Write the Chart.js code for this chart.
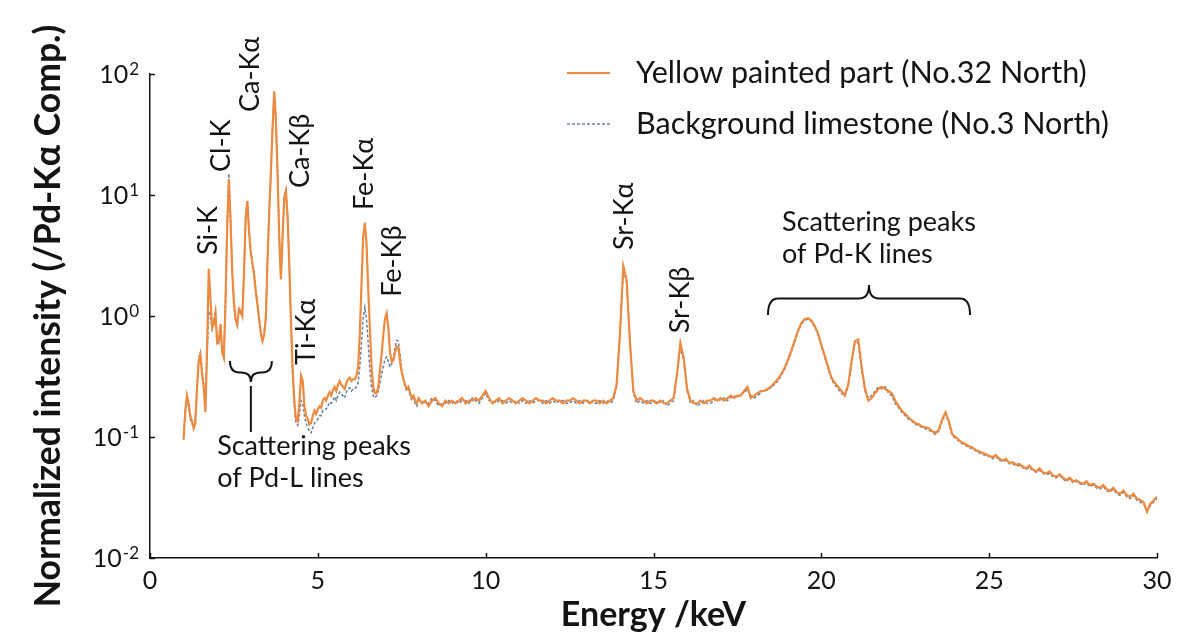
<!DOCTYPE html>
<html><head><meta charset="utf-8">
<script src="https://cdn.jsdelivr.net/npm/chart.js@4.4.1/dist/chart.umd.min.js"></script>
<style>html,body{margin:0;padding:0;background:#fff}#wrap{width:1200px;height:644px}</style>
</head><body><div id="wrap"><canvas id="c" width="1200" height="644"></canvas></div>
<script>
// ---- DATA ----
const energiesLow = [
1.00,1.05,1.10,1.15,1.20,1.25,1.30,1.35,1.40,1.45,
1.50,1.55,1.60,1.65,1.70,1.75,1.80,1.85,1.90,1.95,
2.00,2.05,2.10,2.15,2.20,2.25,2.30,2.35,2.40,2.45,
2.50,2.55,2.60,2.65,2.70,2.75,2.80,2.85,2.90,2.95,
3.00,3.05,3.10,3.15,3.20,3.25,3.30,3.35,3.40,3.45,
3.50,3.55,3.60,3.65,3.70,3.75,3.80,3.85,3.90,3.95,
4.00,4.05,4.10,4.15,4.20,4.25,4.30,4.35,4.40,4.45,
4.50,4.55,4.60,4.65,4.70,4.75,4.80,4.85,4.90,4.95,
5.00,5.05,5.10,5.15,5.20,5.25,5.30,5.35,5.40,5.45,
5.50,5.55,5.60,5.65,5.70,5.75,5.80,5.85,5.90,5.95,
6.00,6.05,6.10,6.15,6.20,6.25,6.30,6.35,6.40,6.45,
6.50,6.55,6.60,6.65,6.70,6.75,6.80,6.85,6.90,6.95,
7.00,7.05,7.10,7.15,7.20,7.25,7.30,7.35,7.40,7.45,
7.50,7.55,7.60,7.65,7.70,7.75,7.80,7.85,7.90,7.95,
8.00];
const energiesHigh = [
8.1,8.2,8.3,8.4,8.5,8.6,8.7,8.8,8.9,9.0,
9.1,9.2,9.3,9.4,9.5,9.6,9.7,9.8,9.9,10.0,
10.1,10.2,10.3,10.4,10.5,10.6,10.7,10.8,10.9,11.0,
11.1,11.2,11.3,11.4,11.5,11.6,11.7,11.8,11.9,12.0,
12.1,12.2,12.3,12.4,12.5,12.6,12.7,12.8,12.9,13.0,
13.1,13.2,13.3,13.4,13.5,13.6,13.7,13.8,13.9,14.0,
14.1,14.2,14.3,14.4,14.5,14.6,14.7,14.8,14.9,15.0,
15.1,15.2,15.3,15.4,15.5,15.6,15.7,15.8,15.9,16.0,
16.1,16.2,16.3,16.4,16.5,16.6,16.7,16.8,16.9,17.0,
17.1,17.2,17.3,17.4,17.5,17.6,17.7,17.8,17.9,18.0,
18.1,18.2,18.3,18.4,18.5,18.6,18.7,18.8,18.9,19.0,
19.1,19.2,19.3,19.4,19.5,19.6,19.7,19.8,19.9,20.0,
20.1,20.2,20.3,20.4,20.5,20.6,20.7,20.8,20.9,21.0,
21.1,21.2,21.3,21.4,21.5,21.6,21.7,21.8,21.9,22.0,
22.1,22.2,22.3,22.4,22.5,22.6,22.7,22.8,22.9,23.0,
23.1,23.2,23.3,23.4,23.5,23.6,23.7,23.8,23.9,24.0,
24.1,24.2,24.3,24.4,24.5,24.6,24.7,24.8,24.9,25.0,
25.1,25.2,25.3,25.4,25.5,25.6,25.7,25.8,25.9,26.0,
26.1,26.2,26.3,26.4,26.5,26.6,26.7,26.8,26.9,27.0,
27.1,27.2,27.3,27.4,27.5,27.6,27.7,27.8,27.9,28.0,
28.1,28.2,28.3,28.4,28.5,28.6,28.7,28.8,28.9,29.0,
29.1,29.2,29.3,29.4,29.5,29.6,29.7,29.8,29.9,30.0];

// Yellow painted part (No.32 North)
const yellowLow = [
0.095,0.16,0.22,0.19,0.15,0.135,0.118,0.13,0.25,0.42,
0.48,0.33,0.26,0.16,0.55,2.45,1.4,0.8,0.85,1.05,
0.6,0.62,0.86,0.5,0.45,1.3,5.5,13.5,6.0,2.3,
1.3,0.95,0.85,1.15,1.1,1.0,2.2,6.5,8.9,5.0,
3.4,2.7,2.2,1.6,1.25,0.95,0.72,0.62,0.7,0.95,
2.8,7.0,15,35,72,42,15,4.5,2.0,4.5,
9.5,10.8,6.5,2.6,0.9,0.36,0.2,0.14,0.135,0.19,
0.32,0.29,0.18,0.15,0.14,0.127,0.13,0.15,0.165,0.155,
0.17,0.18,0.175,0.2,0.21,0.2,0.22,0.235,0.22,0.245,
0.26,0.24,0.27,0.29,0.27,0.26,0.25,0.28,0.3,0.31,
0.29,0.3,0.3,0.32,0.38,0.7,1.8,4.5,5.9,4.0,
1.7,0.8,0.38,0.26,0.23,0.23,0.26,0.35,0.48,0.7,
0.95,1.05,0.8,0.5,0.42,0.43,0.5,0.56,0.55,0.42,
0.34,0.3,0.27,0.25,0.26,0.23,0.21,0.22,0.2,0.19,
0.21];
const yellowHigh = [
0.19,0.2,0.18,0.2,0.21,0.19,0.18,0.2,0.19,0.2,
0.19,0.2,0.21,0.19,0.2,0.2,0.21,0.2,0.22,0.24,
0.21,0.19,0.2,0.21,0.19,0.2,0.21,0.2,0.19,0.2,
0.21,0.2,0.19,0.2,0.21,0.2,0.2,0.19,0.2,0.21,
0.2,0.2,0.19,0.2,0.2,0.21,0.2,0.19,0.2,0.2,
0.19,0.2,0.2,0.19,0.2,0.19,0.2,0.21,0.27,0.7,
2.6,2.0,0.6,0.24,0.2,0.21,0.2,0.19,0.2,0.2,
0.19,0.2,0.19,0.19,0.2,0.21,0.33,0.6,0.45,0.25,
0.2,0.19,0.19,0.2,0.19,0.2,0.2,0.21,0.2,0.21,
0.2,0.21,0.22,0.21,0.22,0.22,0.24,0.26,0.21,0.22,
0.23,0.24,0.24,0.25,0.26,0.28,0.3,0.33,0.37,0.43,
0.51,0.62,0.75,0.87,0.94,0.96,0.92,0.83,0.72,0.58,
0.47,0.38,0.31,0.28,0.26,0.24,0.22,0.27,0.42,0.62,
0.64,0.38,0.25,0.2,0.21,0.23,0.25,0.26,0.25,0.24,
0.23,0.2,0.18,0.165,0.155,0.145,0.137,0.13,0.128,0.122,
0.12,0.118,0.112,0.108,0.115,0.14,0.16,0.135,0.105,0.1,
0.094,0.09,0.087,0.084,0.082,0.078,0.076,0.074,0.072,0.07,
0.068,0.071,0.066,0.064,0.066,0.061,0.062,0.059,0.06,0.057,
0.055,0.058,0.054,0.052,0.055,0.051,0.05,0.052,0.048,0.047,
0.049,0.046,0.044,0.046,0.043,0.044,0.042,0.041,0.043,0.04,
0.041,0.039,0.038,0.04,0.037,0.036,0.038,0.035,0.034,0.036,
0.033,0.032,0.034,0.031,0.03,0.029,0.024,0.028,0.03,0.032];

// Background limestone (No.3 North)
const backgroundLow = [
0.1,0.17,0.2,0.18,0.14,0.13,0.12,0.14,0.27,0.45,
0.5,0.36,0.27,0.19,0.45,1.1,1.0,0.78,0.9,1.1,
0.65,0.6,0.85,0.52,0.47,1.4,6.0,15,6.5,2.4,
1.25,0.9,0.82,1.1,1.05,1.0,2.3,6.8,9.0,5.2,
3.5,2.8,2.3,1.65,1.3,0.98,0.74,0.63,0.72,1.0,
2.9,7.2,15.5,36,70,43,15.5,4.6,2.1,4.8,
10,11,6.6,2.6,0.85,0.33,0.18,0.13,0.125,0.15,
0.2,0.19,0.15,0.13,0.12,0.11,0.108,0.12,0.13,0.135,
0.14,0.15,0.15,0.165,0.17,0.17,0.18,0.195,0.19,0.2,
0.215,0.2,0.22,0.235,0.225,0.22,0.21,0.235,0.25,0.255,
0.24,0.25,0.25,0.26,0.28,0.38,0.6,0.95,1.18,0.95,
0.6,0.36,0.26,0.22,0.21,0.22,0.24,0.28,0.33,0.38,
0.44,0.46,0.42,0.38,0.4,0.45,0.55,0.63,0.62,0.48,
0.36,0.3,0.26,0.24,0.25,0.22,0.2,0.21,0.19,0.18,
0.2];
const backgroundHigh = [
0.2,0.19,0.19,0.21,0.2,0.18,0.19,0.19,0.2,0.19,
0.2,0.19,0.2,0.2,0.19,0.21,0.2,0.19,0.21,0.23,
0.2,0.2,0.19,0.2,0.2,0.19,0.2,0.19,0.2,0.19,
0.2,0.19,0.2,0.19,0.2,0.2,0.19,0.2,0.19,0.2,
0.19,0.2,0.2,0.19,0.19,0.2,0.19,0.2,0.19,0.2,
0.2,0.19,0.19,0.2,0.19,0.2,0.19,0.2,0.26,0.7,
2.4,1.9,0.6,0.23,0.19,0.2,0.19,0.2,0.19,0.19,
0.2,0.19,0.2,0.18,0.19,0.2,0.33,0.55,0.43,0.24,
0.19,0.2,0.18,0.19,0.2,0.19,0.19,0.2,0.21,0.2,
0.21,0.2,0.21,0.22,0.21,0.23,0.23,0.25,0.22,0.21,
0.22,0.23,0.25,0.24,0.26,0.27,0.29,0.32,0.36,0.42,
0.5,0.6,0.73,0.85,0.92,0.94,0.9,0.81,0.7,0.56,
0.46,0.37,0.3,0.27,0.25,0.23,0.22,0.26,0.4,0.6,
0.6,0.36,0.24,0.21,0.22,0.24,0.26,0.25,0.26,0.23,
0.22,0.19,0.175,0.16,0.15,0.14,0.135,0.128,0.124,0.12,
0.117,0.114,0.11,0.105,0.112,0.135,0.155,0.13,0.102,0.098,
0.092,0.088,0.085,0.082,0.08,0.077,0.074,0.072,0.07,0.069,
0.066,0.069,0.064,0.063,0.064,0.06,0.06,0.058,0.058,0.056,
0.054,0.056,0.053,0.051,0.053,0.05,0.049,0.05,0.047,0.046,
0.048,0.045,0.043,0.045,0.042,0.043,0.041,0.04,0.042,0.039,
0.04,0.038,0.037,0.039,0.036,0.035,0.037,0.034,0.033,0.035,
0.032,0.031,0.033,0.03,0.029,0.028,0.025,0.027,0.029,0.031];

const seriesLabels = ['Yellow painted part (No.32 North)', 'Background limestone (No.3 North)'];
const xTickValues = [0, 5, 10, 15, 20, 25, 30];
const yTickValues = [0.01, 0.1, 1, 10, 100];
const yTickExponents = ['-2', '-1', '0', '1', '2'];
const xTitle = 'Energy /keV';
const yTitle = 'Normalized intensity (/Pd-K\u03B1 Comp.)';

// annotations anchored in data space (energy keV, intensity)
const peakLabels = [
  {text: 'Si-K',  e: 1.73,  v: 3.19},
  {text: 'Cl-K',  e: 2.11,  v: 15.5},
  {text: 'Ca-K\u03B1', e: 2.98,  v: 48.5},
  {text: 'Ca-K\u03B2', e: 4.47,  v: 11.4},
  {text: 'Ti-K\u03B1', e: 4.65,  v: 0.394},
  {text: 'Fe-K\u03B1', e: 6.37,  v: 7.52},
  {text: 'Fe-K\u03B2', e: 7.21,  v: 1.44},
  {text: 'Sr-K\u03B1', e: 14.12, v: 3.51},
  {text: 'Sr-K\u03B2', e: 15.79, v: 0.72}
];
const notes = [
  {lines: ['Scattering peaks', 'of Pd-L lines'], e: 2.0,   v: 0.071},
  {lines: ['Scattering peaks', 'of Pd-K lines'], e: 18.83, v: 5.04}
];
const braces = [
  {e1: 2.38,  e2: 3.63,  v: 0.425, dir: 1,  depth: 21, stemTo: 0.11},
  {e1: 18.41, e2: 24.43, v: 1.02,  dir: -1, depth: 30, stemTo: null}
];

// ---- STYLE ----
const ORANGE = '#EE8A40';
const BLUE = '#6A7F9E';
const INK = '#141414';
const FONT = 'Lato, "Open Sans", sans-serif';

const energies = energiesLow.concat(energiesHigh);
const yellow = yellowLow.concat(yellowHigh);
const background = backgroundLow.concat(backgroundHigh);
const toPoints = ys => energies.map((e, i) => ({x: e, y: ys[i]}));

const decor = {
  id: 'decor',
  afterDraw(chart) {
    const ctx = chart.ctx;
    const xs = chart.scales.x, ys = chart.scales.y;
    const ca = chart.chartArea;
    ctx.save();
    // inward tick marks
    ctx.strokeStyle = INK; ctx.lineWidth = 1.5;
    xTickValues.forEach(v => {
      const px = Math.round(xs.getPixelForValue(v)) + 0.5;
      ctx.beginPath(); ctx.moveTo(px, ca.bottom); ctx.lineTo(px, ca.bottom - 5); ctx.stroke();
    });
    yTickValues.forEach(v => {
      const py = Math.round(ys.getPixelForValue(v)) + 0.5;
      ctx.beginPath(); ctx.moveTo(ca.left, py); ctx.lineTo(ca.left + 5, py); ctx.stroke();
    });
    // y tick labels 10^n
    ctx.fillStyle = INK;
    yTickValues.forEach((v, i) => {
      const py = ys.getPixelForValue(v);
      const right = ca.left - 11;
      ctx.font = '17px ' + FONT;
      const ew = ctx.measureText(yTickExponents[i]).width;
      ctx.textAlign = 'left'; ctx.textBaseline = 'alphabetic';
      ctx.fillText(yTickExponents[i], right - ew, py + 1);
      ctx.font = '25px ' + FONT;
      ctx.textAlign = 'right'; ctx.textBaseline = 'middle';
      ctx.fillText('10', right - ew - 1, py + 1);
    });
    // peak labels (rotated)
    ctx.font = '27px ' + FONT;
    peakLabels.forEach(p => {
      const px = xs.getPixelForValue(p.e), py = ys.getPixelForValue(p.v);
      ctx.save(); ctx.translate(px, py); ctx.rotate(-Math.PI / 2);
      ctx.textAlign = 'left'; ctx.textBaseline = 'middle';
      ctx.fillText(p.text, 0, 0);
      ctx.restore();
    });
    // notes
    ctx.font = '27px ' + FONT;
    ctx.textAlign = 'left'; ctx.textBaseline = 'alphabetic';
    notes.forEach(n => {
      const px = xs.getPixelForValue(n.e), py = ys.getPixelForValue(n.v);
      n.lines.forEach((t, k) => ctx.fillText(t, px, py + k * 32));
    });
    // braces
    ctx.lineWidth = 2; ctx.strokeStyle = INK;
    braces.forEach(b => {
      const x1 = xs.getPixelForValue(b.e1), x2 = xs.getPixelForValue(b.e2);
      const y0 = ys.getPixelForValue(b.v);
      const mid = (x1 + x2) / 2, r = 10;
      const yMid = y0 + b.dir * b.depth * 0.55, yTip = y0 + b.dir * b.depth;
      ctx.beginPath();
      ctx.moveTo(x1, y0);
      ctx.quadraticCurveTo(x1, yMid, x1 + r, yMid);
      ctx.lineTo(mid - r, yMid);
      ctx.quadraticCurveTo(mid, yMid, mid, yTip);
      ctx.quadraticCurveTo(mid, yMid, mid + r, yMid);
      ctx.lineTo(x2 - r, yMid);
      ctx.quadraticCurveTo(x2, yMid, x2, y0);
      ctx.stroke();
      if (b.stemTo) {
        ctx.beginPath(); ctx.moveTo(mid, yTip + 4); ctx.lineTo(mid, ys.getPixelForValue(b.stemTo)); ctx.stroke();
      }
    });
    // legend
    const ds = chart.data.datasets;
    const legY = [73, 124];
    ctx.font = '30.5px ' + FONT;
    ds.forEach((d, i) => {
      ctx.strokeStyle = d.borderColor; ctx.lineWidth = d.borderWidth;
      ctx.setLineDash(d.borderDash || []);
      ctx.beginPath(); ctx.moveTo(567, legY[i]); ctx.lineTo(610, legY[i]); ctx.stroke();
      ctx.setLineDash([]);
      ctx.fillStyle = INK; ctx.textAlign = 'left'; ctx.textBaseline = 'middle';
      ctx.fillText(d.label, 636, legY[i]);
    });
    ctx.restore();
  }
};

new Chart(document.getElementById('c'), {
  type: 'line',
  data: {
    datasets: [
      {label: seriesLabels[0], data: toPoints(yellow), borderColor: ORANGE, borderWidth: 2.2, pointRadius: 0, tension: 0, fill: false},
      {label: seriesLabels[1], data: toPoints(background), borderColor: BLUE, borderWidth: 1.5, borderDash: [3, 2], pointRadius: 0, tension: 0, fill: false}
    ]
  },
  options: {
    responsive: false, animation: false,
    layout: {padding: {left: 0, right: 43, top: 74, bottom: 0}},
    plugins: {legend: {display: false}, tooltip: {enabled: false}},
    scales: {
      x: {
        type: 'linear', min: 0, max: 30,
        afterBuildTicks: s => { s.ticks = xTickValues.map(v => ({value: v})); },
        afterFit: s => { s.height = 86; },
        grid: {display: false, drawTicks: false},
        border: {display: true, color: INK, width: 1.5},
        ticks: {padding: 8, color: INK, font: {family: FONT, size: 25}, maxRotation: 0, autoSkip: false},
        title: {display: true, text: xTitle, color: INK, font: {family: FONT, size: 34, weight: 'bold'}, padding: {top: 0, bottom: 9}}
      },
      y: {
        type: 'logarithmic', min: 0.01, max: 100,
        afterBuildTicks: s => { s.ticks = yTickValues.map(v => ({value: v})); },
        afterFit: s => { s.width = 150; },
        grid: {display: false, drawTicks: false},
        border: {display: true, color: INK, width: 1.5},
        ticks: {display: false},
        title: {display: true, text: yTitle, color: INK, font: {family: FONT, size: 35.5, weight: 'bold'}, padding: {top: 27, bottom: 0}}
      }
    }
  },
  plugins: [decor]
});
</script>
</body></html>
